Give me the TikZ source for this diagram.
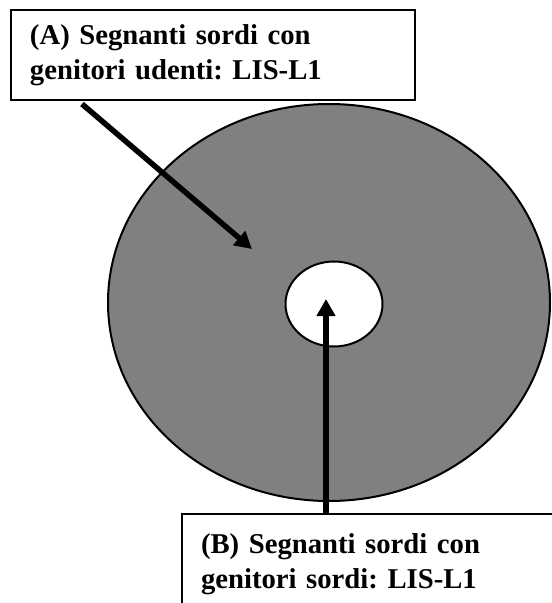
\documentclass[tikz,border=0pt]{standalone}
\usepackage{fontspec}
\setmainfont{Liberation Serif}
\usepackage{tikz}
\usetikzlibrary{arrows.meta,shapes.geometric,positioning}

\definecolor{ringgray}{RGB}{128,128,128}

\begin{document}
\frenchspacing
\begin{tikzpicture}[x=1pt, y=-1pt,
		labelbox/.style={draw, line width=2pt, fill=white, inner xsep=19pt, align=left,
			font=\fontsize{28.7}{35}\selectfont\bfseries},
		ring/.style={ellipse, draw, line width=2pt, inner sep=0pt},
		pointer/.style={line width=5.5pt, -{Triangle[width=18pt,length=17pt]}}]
				\useasboundingbox (0, 0) rectangle (552, 603);
				\clip (0, 0) rectangle (552, 603);

				\node[ring, fill=ringgray, minimum width=442pt, minimum height=397pt] (outer) at (329, 302.5) {};
				\node[ring, fill=white, minimum width=97pt, minimum height=85pt] (inner) at (334, 304) {};

				\node[labelbox, text width=366pt, minimum height=90pt] (boxA) at (213, 55) {(A) Segnanti sordi con\\genitori udenti: LIS-L1};
				\node[labelbox, text width=380pt, inner ysep=20pt, anchor=north west] (boxB) at (181, 513) {(B) Segnanti sordi con\\genitori sordi: LIS-L1};

				\coordinate (tipA) at (252, 249);
				\coordinate (tipB) at (326, 299);

				\draw [pointer] ([xshift=72pt, yshift=-3pt]boxA.south west) to (tipA);
				\draw [pointer] (boxB.north west -| tipB) to (tipB);
		\end{tikzpicture}
\end{document}
